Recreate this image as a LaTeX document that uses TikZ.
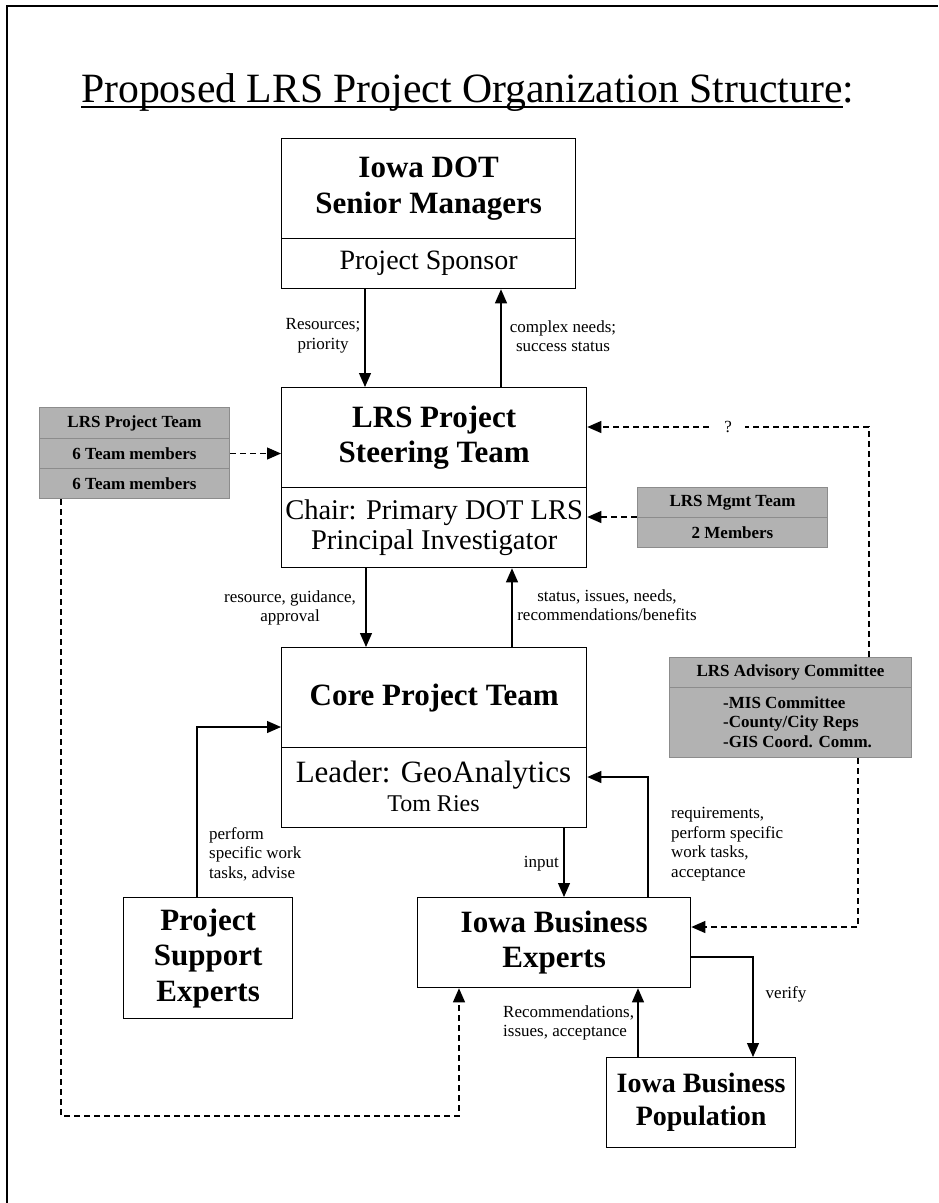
\documentclass[tikz,border=0pt]{standalone}
\usepackage{fontspec}
\setmainfont{Liberation Serif}
\usetikzlibrary{arrows.meta}
\newcommand\myboxfont{\fontsize{31}{35.5}\selectfont\bfseries}
\newcommand\mysubfont{\fontsize{28.5}{30.5}\selectfont}
\newcommand\mylabfont{\fontsize{17}{19.5}\selectfont}
\newcommand\mygrayfont{\fontsize{17}{19.5}\selectfont\bfseries}
\newcommand\mytitlefont{\fontsize{41.7}{46}\selectfont}
\begin{document}
\begin{tikzpicture}[x=1pt,y=-1pt,
  cell/.style={draw, line width=1.3pt, inner sep=0pt, anchor=north west, align=center},
  gcell/.style={draw=black!45, fill=black!30, line width=1pt, inner sep=0pt, anchor=north west, align=center, font=\mygrayfont},
  arr/.style={line width=1.2pt, -{Triangle[width=12pt,length=14pt]}},
  darr/.style={arr, dash pattern=on 6pt off 4pt},
  lab/.style={font=\mylabfont, inner sep=0pt}]
\useasboundingbox (0,0) rectangle (938,1203);
% frame
\draw[line width=2.5pt] (7,1203) -- (7,6) -- (938,6);
% title
\node[anchor=base west, inner sep=0pt, font=\mytitlefont] (title) at (81,102) {Proposed LRS Project Organization Structure};
\node[anchor=base west, inner sep=0pt, font=\mytitlefont] (colon) at (title.base east) {:};
\draw[line width=2pt] ([yshift=-5pt]title.base west) -- ([yshift=-5pt]title.base east);

% main boxes
\node[cell, minimum width=294pt, minimum height=100pt, font=\myboxfont] (dottop) at (281,138) {Iowa DOT\\Senior Managers};
\node[cell, minimum width=294pt, minimum height=50pt, font=\fontsize{28}{30}\selectfont] (dotbot) at (281,238) {Project Sponsor};

\node[cell, minimum width=305pt, minimum height=100pt, font=\myboxfont] (steertop) at (281,387) {LRS Project\\Steering Team};
\node[cell, minimum width=305pt, minimum height=80pt, font=\mysubfont] (steerbot) at (281,487) {Chair: Primary DOT LRS\\Principal Investigator};

\node[cell, minimum width=305pt, minimum height=100pt, font=\myboxfont] (coretop) at (281,647) {Core Project Team};
\node[cell, minimum width=305pt, minimum height=80pt] (corebot) at (281,747) {};
\node[anchor=base, inner sep=0pt, font=\fontsize{31}{33}\selectfont] (leader) at (433.5,782) {Leader: GeoAnalytics};
\node[anchor=base, inner sep=0pt, font=\fontsize{24}{26}\selectfont] (tom) at (433.5,811) {Tom Ries};

\node[cell, minimum width=169pt, minimum height=121pt, font=\myboxfont] (pse) at (123,897) {Project\\Support\\Experts};
\node[cell, minimum width=273pt, minimum height=90pt, font=\myboxfont] (ibe) at (417,897) {Iowa Business\\Experts};
\node[cell, minimum width=189pt, minimum height=90pt, font=\fontsize{28}{33}\selectfont\bfseries] (pop) at (606,1057) {Iowa Business\\Population};

% gray boxes
\node[gcell, minimum width=190pt, minimum height=31pt] (team1) at (39,407) {LRS Project Team};
\node[gcell, minimum width=190pt, minimum height=30pt] (team2) at (39,438) {6 Team members};
\node[gcell, minimum width=190pt, minimum height=30pt] (team3) at (39,468) {6 Team members};

\node[gcell, minimum width=190pt, minimum height=30pt] (mgmt1) at (637,487) {LRS Mgmt Team};
\node[gcell, minimum width=190pt, minimum height=30pt] (mgmt2) at (637,517) {2 Members};

\node[gcell, minimum width=242pt, minimum height=30pt] (adv1) at (669,657) {LRS Advisory Committee};
\node[gcell, minimum width=242pt, minimum height=70pt] (adv2) at (669,687) {};
\node[anchor=west, inner sep=0pt, align=left, font=\mygrayfont] (advtext) at (723,722) {-MIS Committee\\-County/City Reps\\-GIS Coord. Comm.};

% helper coordinates
\coordinate (xa) at (365,0);
\coordinate (xb) at (501,0);
\coordinate (xc) at (366,0);
\coordinate (xd) at (512,0);
\coordinate (xe) at (869,0);
\coordinate (ya) at (0,427);
\coordinate (xf) at (858,0);
\coordinate (yb) at (0,927);
\coordinate (xg) at (197,0);
\coordinate (yc) at (0,727);
\coordinate (xh) at (564,0);
\coordinate (xi) at (648,0);
\coordinate (yd) at (0,777);
\coordinate (xj) at (61,0);
\coordinate (ye) at (0,1116);
\coordinate (xk) at (459,0);
\coordinate (yf) at (0,957);
\coordinate (xl) at (753,0);
\coordinate (xm) at (638,0);

% connectors
\draw[arr] (dotbot.south -| xa) -- (steertop.north -| xa);
\draw[arr] (steertop.north -| xb) -- (dotbot.south -| xb);
\draw[darr] (team2.east) -- (steertop.west |- team2.east);
\draw[darr] (mgmt2.north west) -- (steerbot.east |- mgmt2.north west);
\draw[darr] (adv1.north -| xe) |- (steertop.east |- ya)
  node[pos=0.75, fill=white, font=\mylabfont, inner xsep=13pt, inner ysep=3pt] (qm) {?};
\draw[arr] (steerbot.south -| xc) -- (coretop.north -| xc);
\draw[arr] (coretop.north -| xd) -- (steerbot.south -| xd);
\draw[arr] (pse.north -| xg) |- (coretop.west |- yc);
\draw[arr] (corebot.south -| xh) -- (ibe.north -| xh);
\draw[arr] (ibe.north -| xi) |- (corebot.east |- yd);
\draw[darr] (adv2.south -| xf) |- (ibe.east |- yb);
\draw[darr] (team3.south -| xj) -- (xj |- ye) -| (ibe.south -| xk);
\draw[arr] (ibe.east |- yf) -| (pop.north -| xl);
\draw[arr] (pop.north -| xm) -- (ibe.south -| xm);

% labels
\node[lab, align=center] (l1) at (323,336) {Resources;\\priority};
\node[lab, align=center] (l2) at (563,336) {complex needs;\\success status};
\node[lab, align=center] (l3) at (290,608) {resource, guidance,\\approval};
\node[lab, align=center] (l4) at (607,605) {status, issues, needs,\\recommendations/benefits};
\node[lab, align=left, anchor=west] (l5) at (209,854) {perform\\specific work\\tasks, advise};
\node[lab, anchor=east] (l6) at (559,864) {input};
\node[lab, align=left, anchor=west] (l7) at (671,844) {requirements,\\perform specific\\work tasks,\\acceptance};
\node[lab] (l8) at (786,994) {verify};
\node[lab, align=left, anchor=west] (l9) at (503,1023) {Recommendations,\\issues, acceptance};
\end{tikzpicture}
\end{document}
